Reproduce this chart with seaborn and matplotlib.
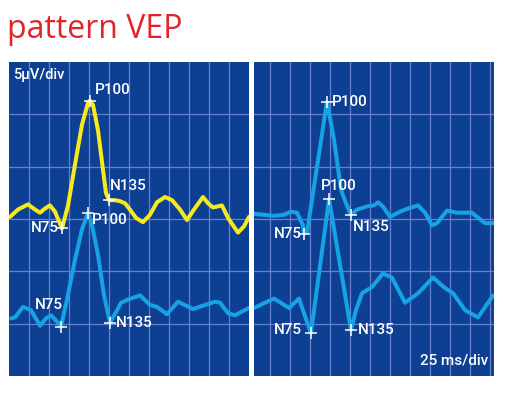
import numpy as np
import pandas as pd
import matplotlib
matplotlib.use("Agg")
import matplotlib.pyplot as plt
import seaborn as sns

# ---- data (time in ms, amplitude in µV; 25 ms/div, 5 µV/div) ----
left_yellow_t = [1.2, 11.2, 23.8, 32.5, 38.8, 45.0, 51.2, 57.5, 66.2, 73.8, 82.5, 91.2, 98.8, 101.2,
                 105.0, 111.2, 117.5, 121.2, 125.0, 132.5, 138.8, 145.0, 151.2, 158.8, 167.5, 176.2,
                 185.0, 195.0, 203.8, 213.8, 222.5, 231.2, 242.5, 248.8, 255.0, 266.2, 273.8, 286.2,
                 293.8, 300.0]
left_yellow_v = [15.2, 15.9, 16.4, 15.9, 15.6, 16.0, 16.3, 15.7, 14.1, 16.3, 20.2, 24.0, 26.1, 26.3,
                 25.9, 23.5, 19.7, 17.5, 16.8, 16.8, 16.7, 16.5, 15.9, 15.1, 14.7, 15.4,
                 16.6, 17.1, 16.8, 15.9, 14.9, 15.9, 17.1, 16.5, 16.1, 16.3, 15.1, 13.7,
                 14.3, 15.2]

left_blue_t = [2.5, 7.5, 17.5, 27.5, 38.8, 46.2, 52.5, 58.8, 65.0, 72.5, 82.5, 91.2, 98.8, 103.8,
               111.2, 118.8, 126.2, 133.8, 140.0, 148.8, 156.2, 163.8, 176.2, 185.0, 197.5, 211.2,
               230.0, 257.5, 263.8, 273.8, 282.5, 300.0]
left_blue_v = [5.5, 5.6, 6.6, 6.3, 4.8, 5.5, 5.8, 5.3, 4.7, 7.3, 11.1, 14.0, 15.6, 14.4,
               11.6, 7.7, 5.1, 6.1, 7.0, 7.3, 7.5, 7.7, 6.8, 6.6, 5.9, 7.1,
               6.4, 7.1, 7.0, 6.0, 5.8, 6.5]

right_upper_t = [0.0, 25.0, 37.5, 46.2, 53.8, 61.2, 62.5, 66.2, 91.2, 100.0, 108.8, 115.0, 121.2,
                 128.8, 141.2, 150.0, 155.0, 161.2, 170.0, 182.5, 192.5, 205.0, 213.8, 222.5,
                 228.8, 241.2, 253.8, 272.5, 278.8, 288.8, 300.0]
right_upper_v = [15.5, 15.3, 15.4, 15.7, 15.6, 14.4, 13.6, 13.7, 26.2, 22.6, 17.8, 16.5, 15.4,
                 15.9, 16.2, 16.3, 16.6, 16.2, 15.2, 15.7, 16.0, 16.3, 15.6, 14.4,
                 14.6, 15.8, 15.6, 15.6, 15.2, 14.6, 14.6]

right_lower_t = [0.0, 25.0, 43.8, 56.2, 62.5, 71.2, 93.8, 121.2, 127.5, 135.0, 147.5, 161.2, 172.5,
                 188.8, 205.0, 223.8, 238.8, 248.8, 263.8, 280.0, 298.8]
right_lower_v = [6.5, 7.4, 6.5, 7.4, 6.0, 4.1, 16.9, 4.4, 6.3, 7.9, 8.5, 9.8, 9.4,
                 7.0, 7.9, 9.4, 8.4, 7.9, 6.3, 5.6, 7.7]

# peak markers: (panel, label, time, amplitude, x-offset px, y-offset px, ha)
peak_panel = [0, 0, 0, 0, 0, 0, 1, 1, 1, 1, 1, 1]
peak_label = ["P100", "N135", "N75", "P100", "N75", "N135",
              "P100", "N75", "N135", "P100", "N75", "N135"]
peak_t = [101.2, 125.0, 66.2, 98.8, 65.0, 126.2, 91.2, 62.5, 121.2, 93.8, 71.2, 121.2]
peak_v = [26.3, 16.8, 14.1, 15.6, 4.7, 5.1, 26.2, 13.6, 15.4, 16.9, 4.1, 4.4]
label_dx = [5, 1, -3, 4, 2, 6, 5, -2, 2, 10, -9, 7]
label_dy = [11, 14, 0, -7, 22, 0, 0, 0, -12, 13, 3, 0]
label_ha = ["left", "left", "right", "left", "right", "left",
            "left", "right", "left", "center", "right", "left"]

BG = "#0d3f92"
GRID = "#6680cc"
YELLOW = "#f7ea1c"
CYAN = "#17a2e6"
RED = "#e3232b"

W, H = 510, 393
fig = plt.figure(figsize=(W / 100, H / 100), dpi=100)
fig.patch.set_facecolor("white")

axL = fig.add_axes([9 / W, (H - 376) / H, 240 / W, 314 / H])
axR = fig.add_axes([254 / W, (H - 376) / H, 240 / W, 314 / H])

traces = [
    (axL, left_yellow_t, left_yellow_v, YELLOW),
    (axL, left_blue_t, left_blue_v, CYAN),
    (axR, right_upper_t, right_upper_v, CYAN),
    (axR, right_lower_t, right_lower_v, CYAN),
]

for ax, xticks in [(axL, np.arange(25, 300, 25)), (axR, np.arange(20, 300, 25))]:
    ax.set_facecolor(BG)
    ax.set_xlim(0, 300)
    ax.set_ylim(0, 30)
    ax.set_xticks(xticks)
    ax.set_yticks(np.arange(5, 30, 5))
    ax.grid(True, color=GRID, linewidth=0.9)
    ax.set_axisbelow(True)
    ax.tick_params(length=0, labelbottom=False, labelleft=False)
    for s in ax.spines.values():
        s.set_visible(False)

for ax, t, v, c in traces:
    df = pd.DataFrame({"t": t, "v": v})
    sns.lineplot(data=df, x="t", y="v", ax=ax, sort=False, estimator=None,
                 color=c, linewidth=2.9, solid_joinstyle="round", solid_capstyle="round")
    ax.set_xlabel("")
    ax.set_ylabel("")

axes = [axL, axR]
fnt = dict(family=["Roboto", "DejaVu Sans"], fontsize=11, fontweight="medium", color="white")
for p, lab, t, v, dx, dy, ha in zip(peak_panel, peak_label, peak_t, peak_v, label_dx, label_dy, label_ha):
    ax = axes[p]
    ax.plot([t], [v], marker="+", markersize=9, markeredgewidth=1.1, color="white", zorder=5)
    ax.annotate(lab, (t, v), xytext=(dx, dy), textcoords="offset pixels",
                ha=ha, va="center", zorder=6, **fnt)

axL.text(0.018, 0.96, "5µV/div", transform=axL.transAxes, ha="left", va="center",
         family=["Roboto", "DejaVu Sans"], fontsize=10.5, fontweight="medium", color="white")
axR.text(0.975, 0.048, "25 ms/div", transform=axR.transAxes, ha="right", va="center",
         family=["Roboto", "DejaVu Sans"], fontsize=11, fontweight="medium", color="white")

fig.text(7 / W, 1 - 29 / H, "pattern VEP", ha="left", va="center",
         family=["Open Sans", "DejaVu Sans"], fontsize=23, color=RED)

fig.savefig("out.png", dpi=100, facecolor="white")
